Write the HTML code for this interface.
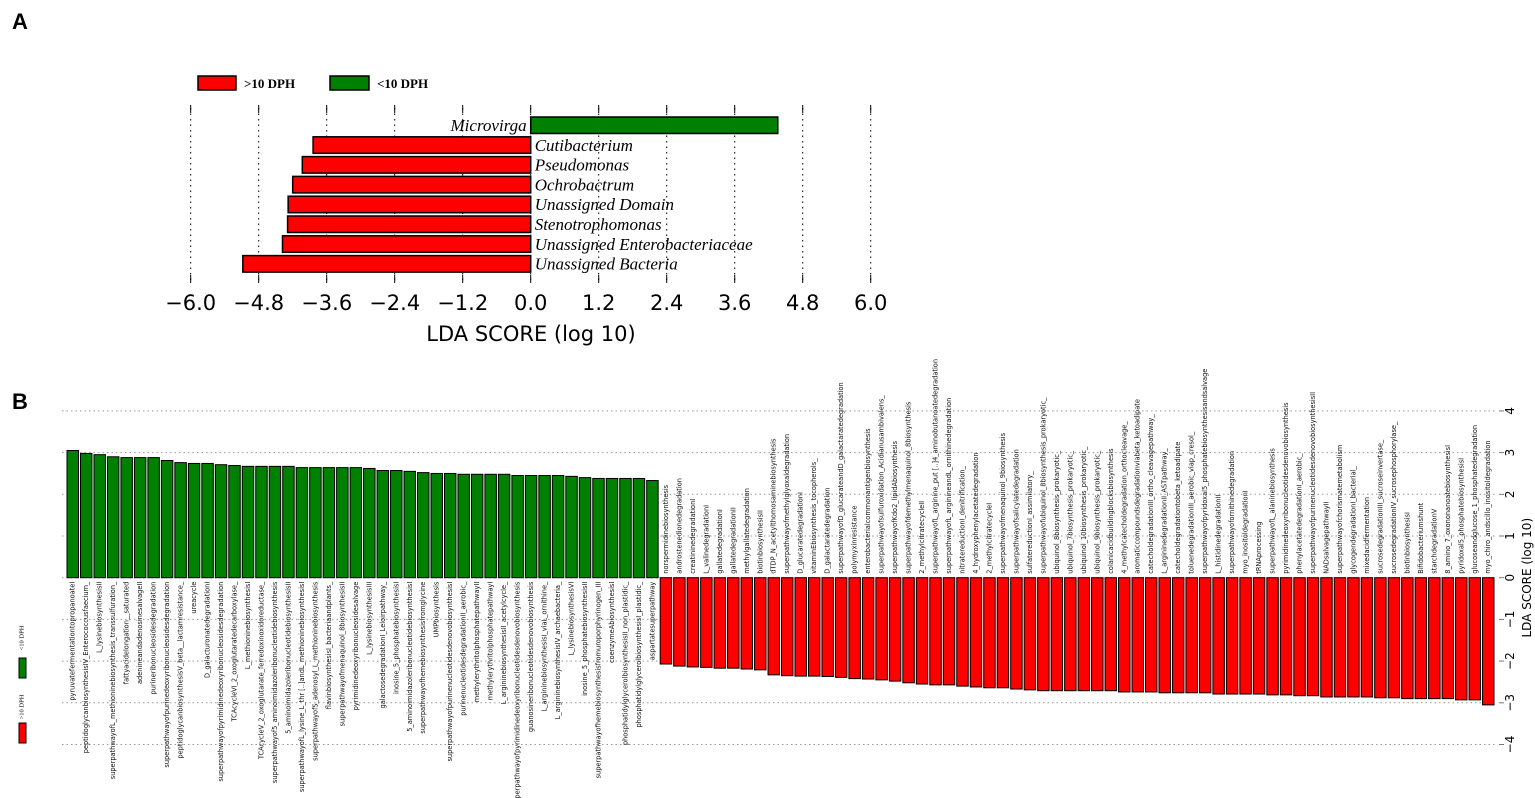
<!DOCTYPE html>
<html><head><meta charset="utf-8"><style>
html,body{margin:0;padding:0;background:#fff;}
svg{display:block;}
</style></head><body>
<svg id="chart" width="1535" height="798" xmlns="http://www.w3.org/2000/svg">
<text x="12" y="29" font-family="Liberation Sans, sans-serif" font-size="22" font-weight="bold">A</text>
<text x="12" y="409" font-family="Liberation Sans, sans-serif" font-size="22" font-weight="bold">B</text>
<g id="ga"></g>
<g id="gb"></g>
</svg>
<script>
// ---- Panel A data ----
const aTaxa = ["Microvirga","Cutibacterium","Pseudomonas","Ochrobactrum","Unassigned Domain","Stenotrophomonas","Unassigned Enterobacteriaceae","Unassigned Bacteria"];
const aScores = [4.36,-3.84,-4.03,-4.2,-4.28,-4.29,-4.38,-5.08];
const aTicks = ["-6.0","-4.8","-3.6","-2.4","-1.2","0.0","1.2","2.4","3.6","4.8","6.0"];
// ---- Panel B data ----
const bGreenLabels = ["pyruvatefermentationtopropanoateI","peptidoglycanbiosynthesisIV_Enterococcusfaecium_","L_lysinebiosynthesisII","superpathwayofL_methioninebiosynthesis_transsulfuration_","fattyacidelongation__saturated","adenineandadenosinesalvageII","purineribonucleosidesdegradation","superpathwayofpurinedeoxyribonucleosidesdegradation","peptidoglycanbiosynthesisV_beta__lactamresistance_","ureacycle","D_galacturonatedegradationI","superpathwayofpyrimidinedeoxyribonucleosidesdegradation","TCAcycleVI_2_oxoglutaratedecarboxylase_","L_methioninebiosynthesisI","TCAcycleV_2_oxoglutarate_ferredoxinoxidoreductase_","superpathwayof5_aminoimidazoleribonucleotidebiosynthesis","5_aminoimidazoleribonucleotidebiosynthesisII","superpathwayofL_lysine_L_thr [..]andL_methioninebiosynthesisI","superpathwayofS_adenosyl_L_methioninebiosynthesis","flavinbiosynthesisI_bacteriaandplants_","superpathwayofmenaquinol_8biosynthesisII","pyrimidinedeoxyribonucleosidesalvage","L_lysinebiosynthesisIII","galactosedegradationI_Leloirpathway_","inosine_5_phosphatebiosynthesisI","5_aminoimidazoleribonucleotidebiosynthesisI","superpathwayofhemebiosynthesisfromglycine","UMPbiosynthesis","superpathwayofpurinenucleotidesdenovobiosynthesisI","purinenucleotidesdegradationII_aerobic_","methylerythritolphosphatepathwayII","methylerythritolphosphatepathwayI","L_argininebiosynthesisII_acetylcycle_","superpathwayofpyrimidinedeoxyribonucleotidesdenovobiosynthesis","guanosineribonucleotidesdenovobiosynthesis","L_argininebiosynthesisI_viaL_ornithine_","L_argininebiosynthesisIV_archaebacteria_","L_lysinebiosynthesisVI","inosine_5_phosphatebiosynthesisII","superpathwayofhemebiosynthesisfromuroporphyrinogen_III","coenzymeAbiosynthesisI","phosphatidylglycerolbiosynthesisII_non_plastidic_","phosphatidylglycerolbiosynthesisI_plastidic_","aspartatesuperpathway"];
const bGreenValues = [3.05,2.98,2.95,2.9,2.88,2.88,2.88,2.81,2.76,2.74,2.74,2.71,2.69,2.67,2.67,2.67,2.67,2.64,2.64,2.64,2.64,2.64,2.62,2.57,2.57,2.55,2.52,2.5,2.5,2.48,2.48,2.48,2.48,2.45,2.45,2.45,2.45,2.43,2.4,2.38,2.38,2.38,2.38,2.33];
const bRedLabels = ["norspermidinebiosynthesis","androstenedionedegradation","creatininedegradationI","L_valinedegradationI","gallatedegradationI","gallatedegradationII","methylgallatedegradation","biotinbiosynthesisII","dTDP_N_acetylthomosaminebiosynthesis","superpathwayofmethylglyoxaldegradation","D_glucaratedegradationI","vitaminEbiosynthesis_tocopherols_","D_galactaratedegradation","superpathwayofD_glucarateandD_galactaratedegradation","polymyxinresistance","enterobacterialcommonantigenbiosynthesis","superpathwayofsulfuroxidation_Acidianusambivalens_","superpathwayofKdo2_lipidAbiosynthesis","superpathwayofdemethylmenaquinol_8biosynthesis","2_methylcitratecycleII","superpathwayofL_arginine_put [..]4_aminobutanoatedegradation","superpathwayofL_arginineandL_ornithinedegradation","nitratereductionI_denitrification_","4_hydroxyphenylacetatedegradation","2_methylcitratecycleI","superpathwayofmenaquinol_9biosynthesis","superpathwayofsalicylatedegradation","sulfatereductionI_assimilatory_","superpathwayofubiquinol_8biosynthesis_prokaryotic_","ubiquinol_8biosynthesis_prokaryotic_","ubiquinol_7biosynthesis_prokaryotic_","ubiquinol_10biosynthesis_prokaryotic_","ubiquinol_9biosynthesis_prokaryotic_","colanicacidbuildingblocksbiosynthesis","4_methylcatecholdegradation_orthocleavage_","aromaticcompoundsdegradationviabeta_ketoadipate","catecholdegradationIII_ortho_cleavagepathway_","L_argininedegradationII_ASTpathway_","catecholdegradationtobeta_ketoadipate","toluenedegradationIII_aerobic_viap_cresol_","superpathwayofpyridoxal5_phosphatebiosynthesisandsalvage","L_histidinedegradationII","superpathwayofornithinedegradation","myo_inositoldegradationI","tRNAprocessing","superpathwayofL_alaninebiosynthesis","pyrimidinedeoxyribonucleotidesdenovobiosynthesis","phenylacetatedegradationI_aerobic_","superpathwayofpurinenucleotidesdenovobiosynthesisII","NADsalvagepathwayII","superpathwayofchorismatemetabolism","glycogendegradationI_bacterial_","mixedacidfermentation","sucrosedegradationIII_sucroseinvertase_","sucrosedegradationIV_sucrosephosphorylase_","biotinbiosynthesisI","Bifidobacteriumshunt","starchdegradationV","8_amino_7_oxononanoatebiosynthesisI","pyridoxal5_phosphatebiosynthesisI","glucoseandglucose_1_phosphatedegradation","myo_chiro_andscillo_inositoldegradation"];
const bRedValues = [-2.07,-2.12,-2.14,-2.15,-2.17,-2.17,-2.19,-2.21,-2.33,-2.35,-2.36,-2.36,-2.37,-2.39,-2.42,-2.43,-2.45,-2.48,-2.52,-2.55,-2.57,-2.57,-2.6,-2.62,-2.64,-2.64,-2.67,-2.69,-2.71,-2.71,-2.71,-2.71,-2.71,-2.71,-2.74,-2.74,-2.74,-2.76,-2.76,-2.76,-2.76,-2.79,-2.79,-2.79,-2.79,-2.81,-2.81,-2.83,-2.83,-2.86,-2.86,-2.86,-2.86,-2.88,-2.88,-2.9,-2.9,-2.9,-2.9,-2.93,-2.93,-3.05];
const bTicks = [-4,-3,-2,-1,0,1,2,3,4];

const NS="http://www.w3.org/2000/svg";
function mk(parent,tag,attrs,text){const e=document.createElementNS(NS,tag);for(const k in attrs)e.setAttribute(k,attrs[k]);if(text!==undefined)e.textContent=text;parent.appendChild(e);return e;}
const RED="#ff0000", GREEN="#008000";

// ---- Panel A ----
(function(){
  const g=document.getElementById('ga');
  const x0=530.7, unit=56.67;
  const xA=v=>x0+v*unit;
  const rowY=i=>117+i*19.8;
  let e;
  e=mk(g,'rect',{x:198,y:76,width:38,height:14,fill:RED,stroke:'#000','stroke-width':1.5});
  
  
  e=mk(g,'text',{x:244,y:88,'font-family':'Liberation Serif, serif','font-size':13,'font-weight':'bold'},'>10 DPH');
  
  
  e=mk(g,'rect',{x:330,y:76,width:39,height:14,fill:GREEN,stroke:'#000','stroke-width':1.5});
  
  
  e=mk(g,'text',{x:377,y:88,'font-family':'Liberation Serif, serif','font-size':13,'font-weight':'bold'},'<10 DPH');
  
  
  aTicks.forEach(t=>{
    const x=xA(parseFloat(t));
    const l=mk(g,'line',{x1:x,x2:x,y1:108,y2:280,stroke:'#000','stroke-width':1,'stroke-dasharray':'1.5,4'});
    
    
    mk(g,'line',{x1:x,x2:x,y1:105,y2:113,stroke:'#000','stroke-width':1});
    mk(g,'line',{x1:x,x2:x,y1:275,y2:283,stroke:'#000','stroke-width':1});
    const tx=mk(g,'text',{x:x,y:310,'text-anchor':'middle','font-family':'DejaVu Sans, sans-serif','font-size':21},t.replace('-','\u2212'));
    
    
  });
  const at=mk(g,'text',{x:531,y:341,'text-anchor':'middle','font-family':'DejaVu Sans, sans-serif','font-size':21},'LDA SCORE (log 10)');
  
  
  aScores.forEach((v,i)=>{
    const y=rowY(i);
    const x=Math.min(xA(0),xA(v)), w=Math.abs(xA(v)-xA(0));
    const r=mk(g,'rect',{x:x,y:y,width:w,height:16.5,fill:v>0?GREEN:RED,stroke:'#000','stroke-width':1.5});
    
    
    const lbl=mk(g,'text',{x:v>0?x0-4:x0+4,y:y+14,'text-anchor':v>0?'end':'start','font-family':'Liberation Serif, serif','font-size':17,'font-style':'italic'},aTaxa[i]);
    
    
  });
})();

// ---- Panel B ----
(function(){
  const g=document.getElementById('gb');
  const y0=577.7, unit=41.7;
  const yB=v=>y0-v*unit;
  const labels=bGreenLabels.concat(bRedLabels);
  const vals=bGreenValues.concat(bRedValues);
  const left=67, pitch=(1496-67)/labels.length, bw=pitch-2;
  bTicks.forEach(t=>{
    const y=yB(t);
    const l=mk(g,'line',{x1:62,x2:1497,y1:y,y2:y,stroke:'#999','stroke-width':1,'stroke-dasharray':'1.5,3'});
    
    
    mk(g,'line',{x1:1499,x2:1504,y1:y,y2:y,stroke:'#777','stroke-width':1});
    const tx=mk(g,'text',{x:1510,y:y,'text-anchor':'middle','dominant-baseline':'central','font-family':'DejaVu Sans, sans-serif','font-size':12,transform:'rotate(-90 1510 '+y+')'},String(t).replace('-','\u2212'));
    
    
  });
  const yt=mk(g,'text',{x:1527,y:y0,'text-anchor':'middle','dominant-baseline':'central','font-family':'DejaVu Sans, sans-serif','font-size':12,transform:'rotate(-90 1527 '+y0+')'},'LDA SCORE (log 10)');
  
  
  vals.forEach((v,i)=>{
    const x=left+i*pitch;
    const y=Math.min(yB(v),yB(0)), h=Math.abs(yB(v)-yB(0));
    const r=mk(g,'rect',{x:x,y:y,width:bw,height:h,fill:v>0?GREEN:RED,stroke:'#000','stroke-width':1});
    
    
    const cx=x+bw/2;
    const ly=v>0?y0+4:y0-4;
    const lbl=mk(g,'text',{x:cx,y:ly,'text-anchor':v>0?'end':'start','dominant-baseline':'central','font-family':'DejaVu Sans, sans-serif','font-size':6.6,fill:'#111',transform:'rotate(-90 '+cx+' '+ly+')'},labels[i]);
    
    
  });
  let e;
  e=mk(g,'text',{x:22,y:638,'text-anchor':'middle','dominant-baseline':'central','font-family':'Liberation Serif, serif','font-size':6.5,transform:'rotate(-90 22 638)'},'<10 DPH');
  
  
  e=mk(g,'rect',{x:19,y:658,width:7,height:20,fill:GREEN,stroke:'#000','stroke-width':1});
  
  
  e=mk(g,'text',{x:22,y:707,'text-anchor':'middle','dominant-baseline':'central','font-family':'Liberation Serif, serif','font-size':6.5,transform:'rotate(-90 22 707)'},'>10 DPH');
  
  
  e=mk(g,'rect',{x:19,y:723,width:7,height:20,fill:RED,stroke:'#000','stroke-width':1});
  
  
})();
</script>
</body></html>
